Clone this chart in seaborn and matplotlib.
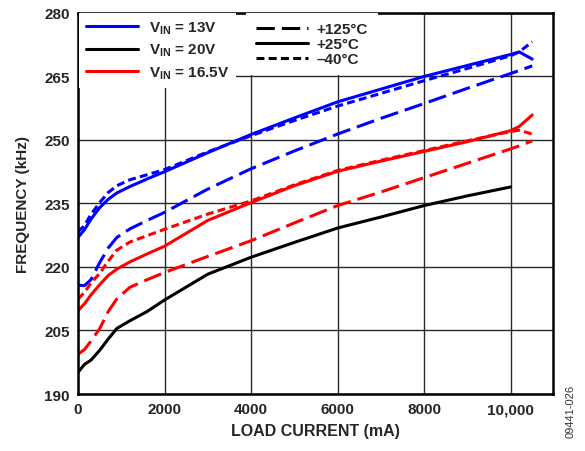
import numpy as np
import pandas as pd
import matplotlib
matplotlib.use("Agg")
import matplotlib.pyplot as plt
from matplotlib.lines import Line2D
import seaborn as sns

# ---- data ----
load_ma = [0, 150, 300, 500, 700, 900, 1200, 1600, 2000, 3000, 4000, 5000,
           6000, 7000, 8000, 9000, 10000, 10200, 10500]

vin13_25c = [227.0, 228.8, 231.3, 234.0, 236.0, 237.5, 239.0, 240.8, 242.5, 247.0,
             251.3, 255.2, 259.0, 262.0, 265.0, 267.6, 270.2, 270.8, 269.1]
vin13_m40c = [228.3, 229.8, 232.4, 235.2, 237.6, 239.2, 240.6, 241.8, 243.0, 247.2,
              251.0, 254.6, 258.0, 261.0, 264.0, 266.9, 269.9, 270.8, 273.2]
vin13_125c = [215.7, 215.6, 217.0, 221.0, 224.5, 227.0, 229.0, 231.0, 232.9, 238.4,
              243.2, 247.4, 251.4, 255.1, 258.6, 262.2, 265.7, 266.4, 267.5]

vin165_25c = [209.7, 211.3, 213.4, 215.8, 218.0, 219.5, 221.2, 223.1, 224.9, 231.0,
              235.2, 239.2, 242.6, 245.0, 247.3, 249.6, 252.2, 253.2, 255.9]
vin165_m40c = [212.4, 214.0, 216.2, 218.5, 221.4, 224.0, 225.9, 227.4, 228.9, 232.5,
               235.6, 239.4, 242.8, 245.2, 247.5, 249.8, 252.0, 252.3, 251.4]
vin165_125c = [199.4, 200.5, 202.5, 205.4, 209.5, 212.5, 215.2, 217.0, 218.7, 222.5,
               226.2, 230.4, 234.5, 237.7, 241.1, 244.5, 247.9, 248.6, 249.8]

vin20_25c = [195.1, 197.0, 198.0, 200.3, 203.0, 205.5, 207.3, 209.5, 212.2, 218.3,
             222.3, 225.8, 229.2, 231.8, 234.5, 236.8, 238.9]

vin_labels = ["13V", "20V", "16.5V"]
temp_labels = ["+125°C", "+25°C", "–40°C"]
x_ticks = [0, 2000, 4000, 6000, 8000, 10000]
x_tick_labels = ["0", "2000", "4000", "6000", "8000", "10,000"]
y_ticks = [190, 205, 220, 235, 250, 265, 280]

series = [
    ("13V", "+25°C", vin13_25c),
    ("13V", "–40°C", vin13_m40c),
    ("13V", "+125°C", vin13_125c),
    ("16.5V", "+25°C", vin165_25c),
    ("16.5V", "–40°C", vin165_m40c),
    ("16.5V", "+125°C", vin165_125c),
    ("20V", "+25°C", vin20_25c),
]
rows = []
for vin, temp, vals in series:
    for x, y in zip(load_ma, vals):
        rows.append({"load": x, "freq": y, "vin": vin, "temp": temp,
                     "curve": vin + temp})
df = pd.DataFrame(rows)

# ---- styling ----
sns.set_style("white")
plt.rcParams["font.family"] = ["Liberation Sans", "DejaVu Sans"]
plt.rcParams["font.weight"] = "bold"
plt.rcParams["mathtext.fontset"] = "custom"
plt.rcParams["mathtext.rm"] = "Liberation Sans:bold"
plt.rcParams["mathtext.default"] = "rm"

palette = {"13V": "#0000ff", "20V": "#000000", "16.5V": "#ff0000"}
dashes = {"+125°C": (6, 2.3), "+25°C": "", "–40°C": (2.6, 1.4)}

fig = plt.figure(figsize=(5.85, 4.52), dpi=100)
ax = fig.add_axes([0.1333, 0.1261, 0.812, 0.843])

sns.lineplot(data=df, x="load", y="freq", hue="vin", style="temp",
             units="curve", estimator=None, sort=False,
             palette=palette, dashes=dashes, linewidth=2.2,
             legend=False, ax=ax)

ax.set_xlim(0, 10980)
ax.set_ylim(190, 280)
ax.set_xticks(x_ticks)
ax.set_xticklabels(x_tick_labels)
ax.set_yticks(y_ticks)
ax.tick_params(axis="both", length=0, labelsize=11, pad=6)
for lab in ax.get_xticklabels() + ax.get_yticklabels():
    lab.set_fontweight("bold")
ax.grid(True, color="#2a2a2a", linewidth=1.0)
ax.set_axisbelow(True)
for s in ax.spines.values():
    s.set_color("black")
    s.set_linewidth(1.8)

ax.set_xlabel("LOAD CURRENT (mA)", fontsize=11.5, fontweight="bold", labelpad=5)
ax.set_ylabel("FREQUENCY (kHz)", fontsize=11, fontweight="bold", labelpad=10)

# legends
h1 = [Line2D([], [], color=palette[v], linewidth=2.2) for v in vin_labels]
l1 = [r"V$_{\mathrm{IN}}$ = " + v for v in vin_labels]
leg1 = ax.legend(h1, l1, loc="upper left", bbox_to_anchor=(0.003, 1.0),
                 frameon=True, framealpha=1, edgecolor="none", facecolor="white",
                 fancybox=False, fontsize=11, handlelength=3.4, handletextpad=0.7,
                 labelspacing=0.38, borderpad=0.45, borderaxespad=0.0)
for t in leg1.get_texts():
    t.set_fontweight("bold")
ax.add_artist(leg1)

h2 = [Line2D([], [], color="black", linewidth=2.2, dashes=dashes["+125°C"]),
      Line2D([], [], color="black", linewidth=2.2),
      Line2D([], [], color="black", linewidth=2.2, dashes=dashes["–40°C"])]
leg2 = ax.legend(h2, temp_labels, loc="upper left", bbox_to_anchor=(0.354, 1.0),
                 frameon=True, framealpha=1, edgecolor="none", facecolor="white",
                 fancybox=False, fontsize=11, handlelength=3.4, handletextpad=0.6,
                 labelspacing=0.05, borderpad=0.62, borderaxespad=0.0)
for t in leg2.get_texts():
    t.set_fontweight("bold")

fig.text(0.975, 0.09, "09441-026", rotation=90, fontsize=8, color="#333333",
         fontweight="normal", ha="center", va="center")

fig.savefig("out.png", dpi=100)
